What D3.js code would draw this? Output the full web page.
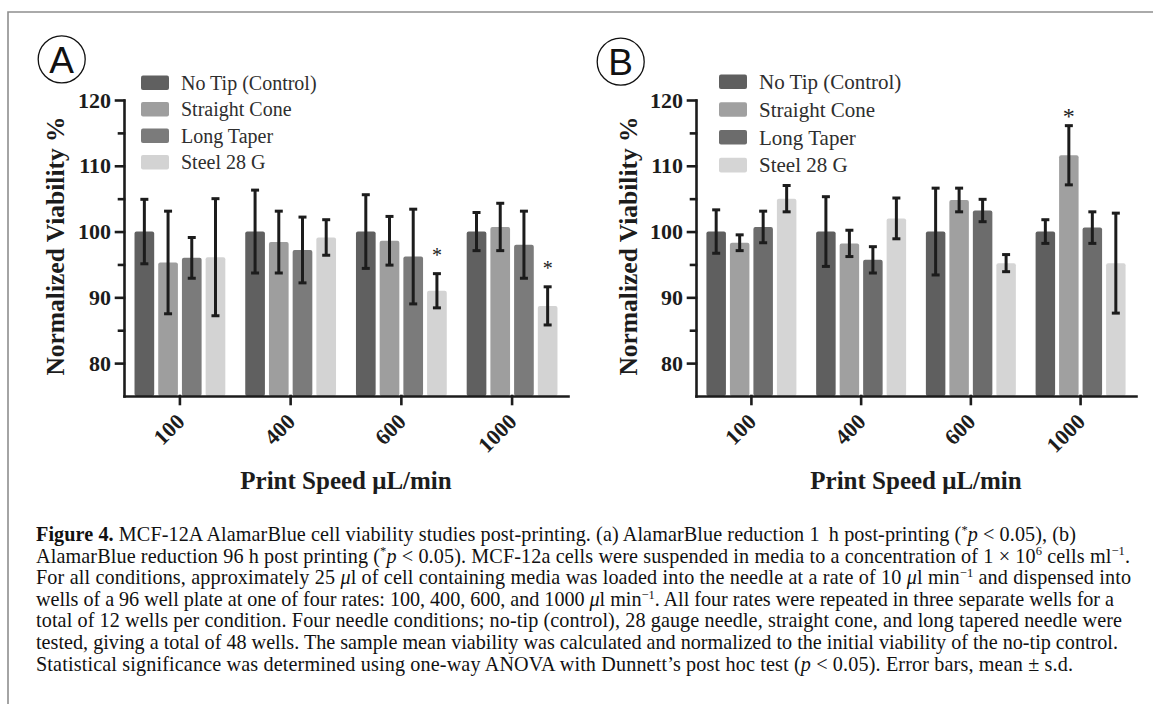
<!DOCTYPE html>
<html>
<head>
<meta charset="utf-8">
<script src="https://cdn.jsdelivr.net/npm/d3@7"></script>
<style>
  body { margin: 0; background: #fff; }
  svg { display: block; }
</style>
</head>
<body>
<svg id="fig" width="1153" height="704"></svg>
<script>
// print speeds (x groups) and needle conditions (series)
const speeds = ["100", "400", "600", "1000"];
const series = ["No Tip (Control)", "Straight Cone", "Long Taper", "Steel 28 G"];

// panel A: 1 h post-printing, rows = speed, cols = series
const meanA = [[100, 95.3, 96.0, 96.1], [100, 98.4, 97.2, 99.1], [100, 98.6, 96.2, 91.0], [100, 100.7, 98.0, 88.7]];
const sdA   = [[4.9, 7.8, 3.1, 8.9], [6.3, 4.7, 5.0, 2.7], [5.6, 3.7, 7.2, 2.6], [2.9, 3.6, 5.1, 2.9]];
const sigA  = [["600", "Steel 28 G"], ["1000", "Steel 28 G"]];

// panel B: 96 h post-printing
const meanB = [[100, 98.3, 100.7, 105.0], [100, 98.2, 95.7, 102.0], [100, 104.8, 103.2, 95.2], [100, 111.6, 100.6, 95.2]];
const sdB   = [[3.3, 1.2, 2.4, 2.0], [5.3, 2.0, 2.0, 3.1], [6.6, 1.8, 1.7, 1.3], [1.8, 4.5, 2.4, 7.6]];
const sigB  = [["1000", "Straight Cone"]];

const yDomain = [75, 120];
const yTicks = [80, 90, 100, 110, 120];
const yMinor = [85, 95, 105, 115];
const yTitle = "Normalized Viability %";
const xTitle = "Print Speed \u03bcL/min";

// caption, one array per printed line; s: b = bold, i = italic, sup = superscript
const captionLines = [
  [{t: "Figure 4.", s: "b"}, {t: " MCF-12A AlamarBlue cell viability studies post-printing. (a) AlamarBlue reduction 1\u2009 h post-printing ("}, {t: "*", s: "sup"}, {t: "p", s: "i"}, {t: " < 0.05), (b)"}],
  [{t: "AlamarBlue reduction 96 h post printing ("}, {t: "*", s: "sup"}, {t: "p", s: "i"}, {t: " < 0.05). MCF-12a cells were suspended in media to a concentration of 1 \u00d7 10"}, {t: "6", s: "sup"}, {t: " cells ml"}, {t: "\u22121", s: "sup"}, {t: "."}],
  [{t: "For all conditions, approximately 25 "}, {t: "\u03bc", s: "i"}, {t: "l of cell containing media was loaded into the needle at a rate of 10 "}, {t: "\u03bc", s: "i"}, {t: "l min"}, {t: "\u22121", s: "sup"}, {t: " and dispensed into"}],
  [{t: "wells of a 96 well plate at one of four rates: 100, 400, 600, and 1000 "}, {t: "\u03bc", s: "i"}, {t: "l min"}, {t: "\u22121", s: "sup"}, {t: ". All four rates were repeated in three separate wells for a"}],
  [{t: "total of 12 wells per condition. Four needle conditions; no-tip (control), 28 gauge needle, straight cone, and long tapered needle were"}],
  [{t: "tested, giving a total of 48 wells. The sample mean viability was calculated and normalized to the initial viability of the no-tip control."}],
  [{t: "Statistical significance was determined using one-way ANOVA with Dunnett\u2019s post hoc test ("}, {t: "p", s: "i"}, {t: " < 0.05). Error bars, mean \u00b1 s.d."}]
];
const captionEnds = [1076, 1130, 1131, 1114, 1122, 1118, 1073];

const SERIF = "'Liberation Serif', 'Times New Roman', serif";
const SANS = "'Liberation Sans', Arial, sans-serif";
const INK = "#1c1c1c";

const svg = d3.select("#fig");

// frame around the figure (top and left edges only)
svg.append("path")
  .attr("d", "M8,704V12H1153")
  .attr("fill", "none")
  .attr("stroke", "#8e8e8e")
  .attr("stroke-width", 1.6);

const panels = [
  {tag: "A", mean: meanA, sd: sdA, sig: sigA, left: 124, right: 568,
   colors: ["#606060", "#9e9e9e", "#7b7b7b", "#d3d3d3"],
   circle: [61.7, 59.3], legendX: 141, legendY: 82.7, legendStep: 26.5, legendFont: 20,
   yTitleX: 64, starGap: 12, starSize: 20},
  {tag: "B", mean: meanB, sd: sdB, sig: sigB, left: 696, right: 1136,
   colors: ["#5f5f5f", "#a0a0a0", "#6c6c6c", "#d5d5d5"],
   circle: [620.7, 61.7], legendX: 719, legendY: 81.7, legendStep: 27.8, legendFont: 21,
   yTitleX: 637, starGap: 2, starSize: 24}
];

panels.forEach(drawPanel);
drawCaption();

function drawPanel(p) {
  const g = svg.append("g").attr("class", "panel-" + p.tag);

  const x0 = d3.scaleBand().domain(speeds).range([p.left, p.right])
    .paddingInner(0.18).paddingOuter(0.095);
  const x1 = d3.scaleBand().domain(series).range([0, x0.bandwidth()])
    .paddingInner(0.17);
  const y = d3.scaleLinear().domain(yDomain).range([396, 100]);

  const rows = [];
  speeds.forEach((sp, i) => series.forEach((se, j) => {
    rows.push({speed: sp, series: se, j: j, mean: p.mean[i][j], sd: p.sd[i][j]});
  }));
  const cx = d => x0(d.speed) + x1(d.series) + x1.bandwidth() / 2;

  // bars
  g.selectAll("rect.bar")
    .data(rows)
    .enter()
    .append("rect")
    .attr("class", "bar")
    .attr("x", d => x0(d.speed) + x1(d.series))
    .attr("y", d => y(d.mean))
    .attr("width", x1.bandwidth())
    .attr("height", d => y(yDomain[0]) - y(d.mean))
    .attr("rx", 2)
    .attr("fill", d => p.colors[d.j]);

  // error bars
  const err = g.selectAll("g.err").data(rows).enter().append("g").attr("class", "err")
    .attr("stroke", INK).attr("stroke-width", 3);
  err.append("line")
    .attr("x1", cx).attr("x2", cx)
    .attr("y1", d => y(d.mean + d.sd)).attr("y2", d => y(d.mean - d.sd));
  [1, -1].forEach(k => {
    err.append("line")
      .attr("x1", d => cx(d) - 4).attr("x2", d => cx(d) + 4)
      .attr("y1", d => y(d.mean + k * d.sd)).attr("y2", d => y(d.mean + k * d.sd));
  });

  // significance stars
  g.selectAll("text.star")
    .data(p.sig)
    .enter()
    .append("text")
    .attr("class", "star")
    .attr("x", d => x0(d[0]) + x1(d[1]) + x1.bandwidth() / 2)
    .attr("y", d => {
      const i = speeds.indexOf(d[0]), j = series.indexOf(d[1]);
      return y(p.mean[i][j] + p.sd[i][j]) - p.starGap;
    })
    .attr("text-anchor", "middle")
    .attr("font-family", SERIF)
    .attr("font-size", p.starSize)
    .attr("fill", INK)
    .text("*");

  // x axis
  const xa = g.append("g")
    .attr("transform", "translate(0,396)")
    .call(d3.axisBottom(x0).tickSize(8).tickSizeOuter(0));
  xa.selectAll("text")
    .attr("x", null).attr("y", null).attr("dy", null)
    .attr("transform", "translate(6,27) rotate(-45)")
    .attr("text-anchor", "end")
    .attr("font-family", SERIF).attr("font-weight", "bold").attr("font-size", 22)
    .attr("fill", INK);

  // y axis, major + minor ticks
  const ya = g.append("g")
    .attr("transform", `translate(${p.left},0)`)
    .call(d3.axisLeft(y).tickValues(yTicks).tickSize(8).tickSizeOuter(0).tickPadding(5));
  ya.selectAll("text")
    .attr("font-family", SERIF).attr("font-weight", "bold").attr("font-size", 22)
    .attr("fill", INK);
  const ym = g.append("g")
    .attr("transform", `translate(${p.left},0)`)
    .call(d3.axisLeft(y).tickValues(yMinor).tickSize(5).tickFormat(""));
  ym.select(".domain").remove();

  g.selectAll(".domain, .tick line")
    .attr("stroke", INK).attr("stroke-width", 2.6).attr("stroke-linecap", "square");

  // axis titles
  g.append("text")
    .attr("x", (p.left + p.right) / 2).attr("y", 489)
    .attr("text-anchor", "middle")
    .attr("font-family", SERIF).attr("font-weight", "bold").attr("font-size", 25)
    .attr("fill", INK)
    .text(xTitle);
  g.append("text")
    .attr("transform", `translate(${p.yTitleX},${(115 + 377) / 2}) rotate(-90)`)
    .attr("text-anchor", "middle")
    .attr("font-family", SERIF).attr("font-weight", "bold").attr("font-size", 25.5)
    .attr("fill", INK)
    .text(yTitle);

  // legend
  const lg = g.selectAll("g.leg").data(series).enter().append("g").attr("class", "leg")
    .attr("transform", (d, i) => `translate(${p.legendX},${p.legendY + i * p.legendStep})`);
  lg.append("rect")
    .attr("x", 0).attr("y", -7.3).attr("width", 28).attr("height", 14.6).attr("rx", 2)
    .attr("fill", (d, i) => p.colors[i]);
  lg.append("text")
    .attr("x", 40).attr("y", 0).attr("dy", "0.35em")
    .attr("font-family", SERIF).attr("font-size", p.legendFont)
    .attr("fill", "#2e2e2e")
    .text(d => d);

  // circled panel letter
  g.append("circle")
    .attr("cx", p.circle[0]).attr("cy", p.circle[1]).attr("r", 23.5)
    .attr("fill", "none").attr("stroke", "#111").attr("stroke-width", 1.3);
  g.append("text")
    .attr("x", p.circle[0]).attr("y", p.circle[1]).attr("dy", "0.36em")
    .attr("text-anchor", "middle")
    .attr("font-family", SANS).attr("font-size", 37)
    .attr("fill", "#111")
    .text(p.tag);
}

function drawCaption() {
  const left = 36, top = 541, lead = 21.6;
  const cap = svg.append("g")
    .attr("font-family", SERIF).attr("fill", "#111");

  // pick a font size so that a plain full line fills its measured width
  const probe = cap.append("text").attr("font-size", 17).text(captionLines[5][0].t);
  const fs = 17 * (captionEnds[5] - left) / probe.node().getComputedTextLength();
  probe.remove();
  cap.attr("font-size", fs);

  captionLines.forEach((line, k) => {
    const t = cap.append("text").attr("x", left).attr("y", top + k * lead);
    let raised = false;
    line.forEach(seg => {
      const ts = t.append("tspan").text(seg.t);
      if (seg.s === "b") ts.attr("font-weight", "bold");
      if (seg.s === "i") ts.attr("font-style", "italic");
      if (seg.s === "sup") {
        ts.attr("font-size", fs * 0.62).attr("dy", -fs * 0.36);
        raised = true;
      } else if (raised) {
        ts.attr("dy", fs * 0.36);
        raised = false;
      }
    });
    t.attr("textLength", captionEnds[k] - left).attr("lengthAdjust", "spacing");
  });
}
</script>
</body>
</html>
